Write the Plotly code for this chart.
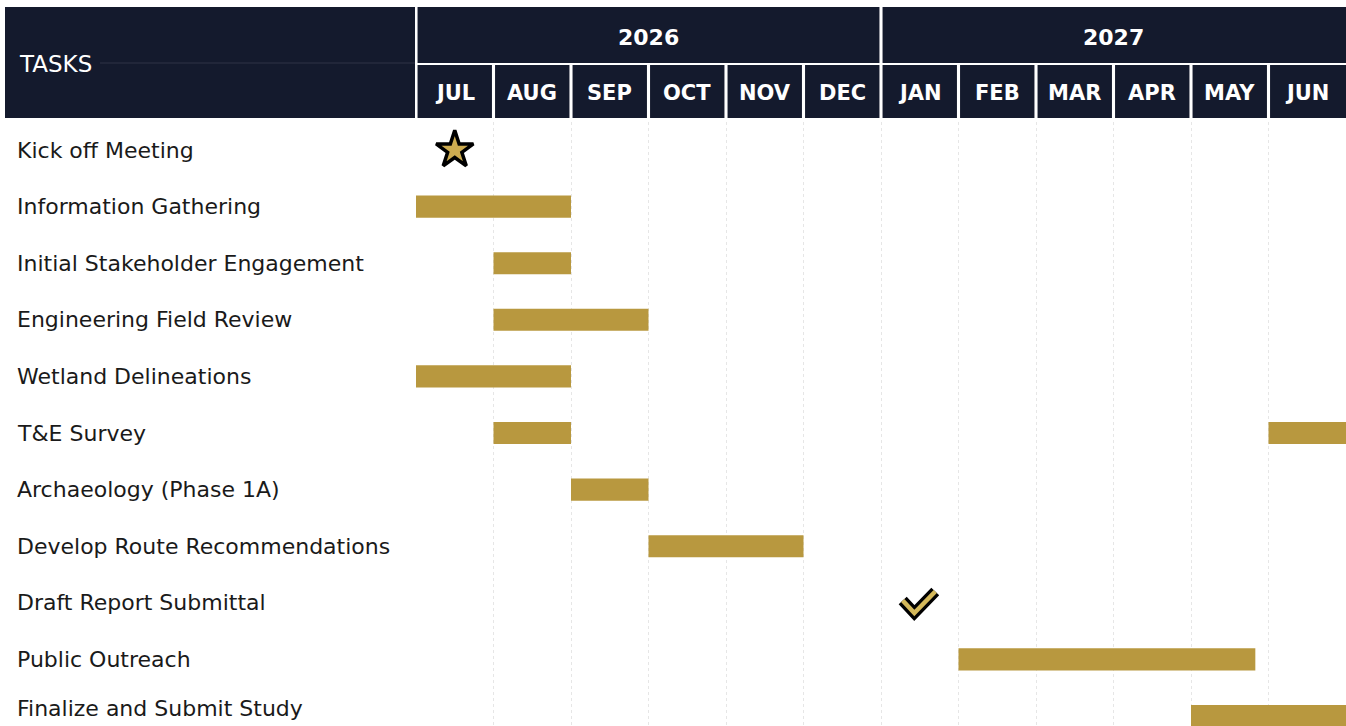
import plotly.graph_objects as go

W, H = 1346, 726

# ---------------- data ----------------
months = ["JUL", "AUG", "SEP", "OCT", "NOV", "DEC",
          "JAN", "FEB", "MAR", "APR", "MAY", "JUN"]
years = ["2026", "2027"]
year_months = [6, 6]

tasks = [
    "Kick off Meeting",
    "Information Gathering",
    "Initial Stakeholder Engagement",
    "Engineering Field Review",
    "Wetland Delineations",
    "T&E Survey",
    "Archaeology (Phase 1A)",
    "Develop Route Recommendations",
    "Draft Report Submittal",
    "Public Outreach",
    "Finalize and Submit Study",
]

# bar segments (month index, 0 = start of JUL 2026)
bar_task = [
    "Information Gathering",
    "Initial Stakeholder Engagement",
    "Engineering Field Review",
    "Wetland Delineations",
    "T&E Survey",
    "T&E Survey",
    "Archaeology (Phase 1A)",
    "Develop Route Recommendations",
    "Public Outreach",
    "Finalize and Submit Study",
]
bar_start = [0, 1, 1, 0, 1, 11, 2, 3, 7, 10]
bar_end = [2, 2, 3, 2, 2, 12, 3, 5, 10.83, 12]

milestone_task = ["Kick off Meeting", "Draft Report Submittal"]
milestone_month = [0.5, 6.5]
milestone_kind = ["star", "check"]

# ---------------- style ----------------
NAVY = "#141a2d"
GOLD = "#b8983f"
STAR_GOLD = "#cdac50"
FONT = "DejaVu Sans"

x_left_px = 416
plot_top_px = 122
row_px = 56.6
n_rows_visible = (H - plot_top_px) / row_px
y_top = -28 / row_px
y_bottom = y_top + n_rows_visible


def py(p):
    """pixel row -> paper y"""
    return 1 - p / H


fig = go.Figure()

# bars
for t, s, e in zip(bar_task, bar_start, bar_end):
    fig.add_trace(go.Bar(
        y=[tasks.index(t)], x=[e - s], base=[s], orientation="h",
        width=0.39, marker=dict(color=GOLD, line=dict(width=0)),
        hoverinfo="skip", showlegend=False,
    ))

# milestones
for t, m, k in zip(milestone_task, milestone_month, milestone_kind):
    yi = tasks.index(t)
    if k == "star":
        fig.add_trace(go.Scatter(
            x=[m], y=[yi], mode="markers",
            marker=dict(symbol="star", size=28, color=STAR_GOLD,
                        line=dict(color="black", width=3.5)),
            hoverinfo="skip", showlegend=False,
        ))
    else:
        dx = [-0.22, -0.07, 0.20]
        dy = [-0.04, 0.18, -0.20]
        xs = [m + d for d in dx]
        ys = [yi + d for d in dy]
        fig.add_trace(go.Scatter(
            x=xs, y=ys, mode="lines",
            line=dict(color="black", width=11),
            hoverinfo="skip", showlegend=False,
        ))
        fig.add_trace(go.Scatter(
            x=xs, y=ys, mode="lines",
            line=dict(color="#d4b85a", width=4.5),
            hoverinfo="skip", showlegend=False,
        ))

shapes = []
annotations = []

# TASKS header cell
shapes.append(dict(type="rect", xref="paper", yref="paper",
                   x0=5 / W, x1=415 / W, y0=py(118), y1=py(7),
                   fillcolor=NAVY, line=dict(width=0), layer="above"))
shapes.append(dict(type="line", xref="paper", yref="paper",
                   x0=100 / W, x1=415 / W, y0=py(63), y1=py(63),
                   line=dict(color="#2e3347", width=1), layer="above"))
annotations.append(dict(text="TASKS", xref="paper", yref="paper",
                        x=17 / W, y=py(64), xanchor="left", yanchor="middle",
                        showarrow=False,
                        font=dict(family=FONT, size=23, color="white")))

# year cells
gap = 0.02
start = 0
for yr, n in zip(years, year_months):
    x0 = start + gap
    x1 = start + n - gap if start + n < 12 else 12
    shapes.append(dict(type="rect", xref="x", yref="paper",
                       x0=x0, x1=x1, y0=py(63), y1=py(7),
                       fillcolor=NAVY, line=dict(width=0), layer="above"))
    annotations.append(dict(text="<b>%s</b>" % yr, xref="x", yref="paper",
                            x=start + n / 2, y=py(37), xanchor="center",
                            yanchor="middle", showarrow=False,
                            font=dict(family=FONT, size=22, color="white")))
    start += n

# month cells
for i, mo in enumerate(months):
    x0 = i + gap
    x1 = i + 1 - gap if i < len(months) - 1 else 12
    shapes.append(dict(type="rect", xref="x", yref="paper",
                       x0=x0, x1=x1, y0=py(118), y1=py(65),
                       fillcolor=NAVY, line=dict(width=0), layer="above"))
    annotations.append(dict(text="<b>%s</b>" % mo, xref="x", yref="paper",
                            x=i + 0.5, y=py(93), xanchor="center",
                            yanchor="middle", showarrow=False,
                            font=dict(family=FONT, size=21, color="white")))

# task labels (kept inside the picture at the bottom edge)
for i, t in enumerate(tasks):
    center_px = plot_top_px + (i - y_top) * row_px
    shift = min(0, (H - 18) - center_px)
    annotations.append(dict(text=t, xref="paper", yref="y",
                            x=15 / W, y=i, xanchor="left", yanchor="middle",
                            yshift=-shift, showarrow=False,
                            font=dict(family=FONT, size=22, color="#1a1a1a")))

fig.update_layout(
    width=W, height=H,
    margin=dict(l=0, r=0, t=0, b=0),
    paper_bgcolor="white", plot_bgcolor="white",
    barmode="overlay",
    shapes=shapes, annotations=annotations,
    xaxis=dict(domain=[x_left_px / W, 1], range=[0, 12],
               tickvals=list(range(13)), showticklabels=False,
               showgrid=True, gridcolor="#e6e6e6", griddash="dot",
               gridwidth=1, zeroline=False, showline=False, fixedrange=True),
    yaxis=dict(domain=[0, py(plot_top_px)], range=[y_bottom, y_top],
               showticklabels=False, showgrid=False, zeroline=False,
               showline=False, fixedrange=True),
)

fig.write_html("out.html",
               config={"displayModeBar": False},
               post_script="document.body.style.margin='0';"
                           "document.body.style.overflow='hidden';")
